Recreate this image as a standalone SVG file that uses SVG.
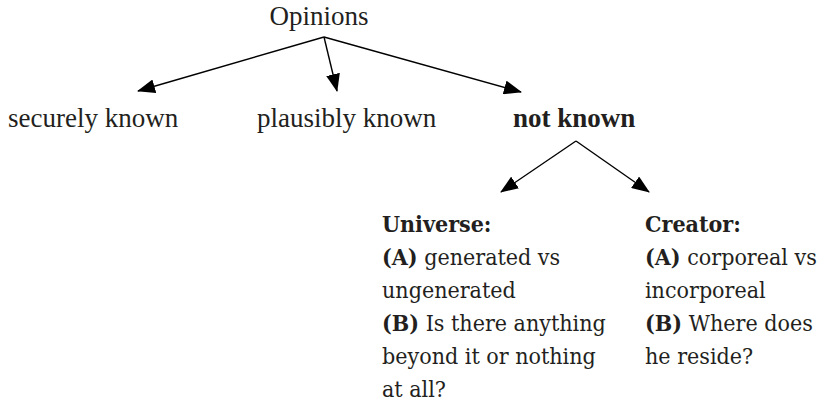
<svg xmlns="http://www.w3.org/2000/svg" width="819" height="410" viewBox="0 0 819 410">
<style>
.top{font-family:"Liberation Serif","DejaVu Serif",serif;font-size:27px;fill:#231f20}
.b{font-weight:bold}
.bot{font-family:"DejaVu Serif Condensed","DejaVu Serif",serif;font-stretch:condensed;font-size:23px;fill:#231f20}
.edge{stroke:#000;stroke-width:1.4;fill:none;marker-end:url(#ah)}
</style>
<defs>
<marker id="ah" viewBox="0 0 18 14" refX="17" refY="7" markerWidth="18" markerHeight="14" markerUnits="userSpaceOnUse" orient="auto">
<path d="M0,0 L18,7 L0,14 Z" fill="#000"/>
</marker>
</defs>
<rect width="819" height="410" fill="#fff"/>
<g id="opinions"><text class="top" x="319" y="25" text-anchor="middle">Opinions</text></g>
<g id="securely"><text class="top" x="8" y="127">securely known</text></g>
<g id="plausibly"><text class="top" x="257" y="127">plausibly known</text></g>
<g id="notknown"><text class="top b" x="513" y="127">not known</text></g>
<g id="universe">
<text class="bot" x="382"><tspan class="b" x="382" y="232">Universe:</tspan><tspan x="382" y="265"><tspan class="b">(A)</tspan> generated vs</tspan><tspan x="382" y="298">ungenerated</tspan><tspan x="382" y="331"><tspan class="b">(B)</tspan> Is there anything</tspan><tspan x="382" y="364">beyond it or nothing</tspan><tspan x="382" y="397">at all?</tspan></text>
</g>
<g id="creator">
<text class="bot" x="645"><tspan class="b" x="645" y="232">Creator:</tspan><tspan x="645" y="265"><tspan class="b">(A)</tspan> corporeal vs</tspan><tspan x="645" y="298">incorporeal</tspan><tspan x="645" y="331"><tspan class="b">(B)</tspan> Where does</tspan><tspan x="645" y="364">he reside?</tspan></text>
</g>
<g id="connectors">
<line class="edge" x1="324" y1="37" x2="138" y2="91"/>
<line class="edge" x1="324" y1="37" x2="337" y2="91"/>
<line class="edge" x1="324" y1="37" x2="521" y2="92"/>
<line class="edge" x1="576" y1="141" x2="501" y2="192"/>
<line class="edge" x1="576" y1="141" x2="649" y2="192"/>
</g>
</svg>
